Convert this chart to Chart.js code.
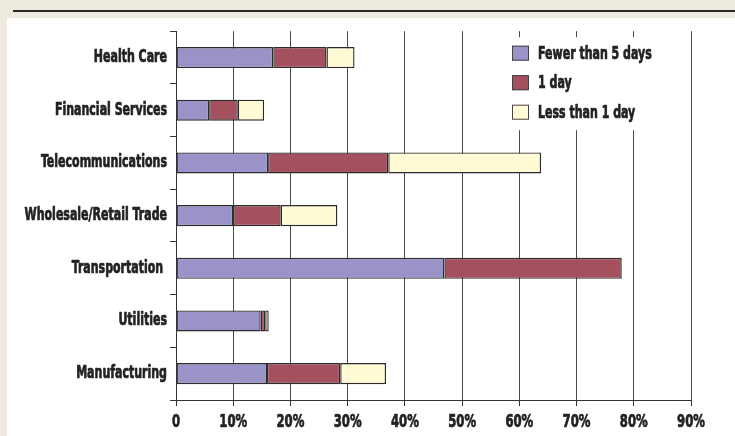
<!DOCTYPE html>
<html>
<head>
<meta charset="utf-8">
<script src="https://cdn.jsdelivr.net/npm/chart.js@4/dist/chart.umd.min.js"></script>
<style>
  html, body { margin: 0; padding: 0; }
  body { width: 735px; height: 436px; background: #eeeae0; position: relative; overflow: hidden; }
  #rule { position: absolute; left: 13px; right: 0; top: 10px; height: 2px; background: #2a2a2a; }
  #panel { position: absolute; left: 7px; top: 18px; width: 728px; height: 418px; background: #ffffff; }
  canvas { display: block; }
</style>
</head>
<body>
<div id="rule"></div>
<div id="panel"><canvas id="chart" width="728" height="418"></canvas></div>
<script>
// Industries, top to bottom
const industries = ['Health Care', 'Financial Services', 'Telecommunications', 'Wholesale/Retail Trade', 'Transportation ', 'Utilities', 'Manufacturing'];
// Share of respondents (%) per recovery window
const fewerThan5Days = [17.0, 5.8, 16.1, 10.0, 46.9, 14.8, 15.9];
const oneDay         = [9.3, 5.0, 21.0, 8.3, 31.0, 0.8, 12.8];
const lessThan1Day   = [4.9, 4.6, 26.7, 9.9, 0, 0.6, 8.0];
const seriesNames = ['Fewer than 5 days', '1 day', 'Less than 1 day'];
const xTicks = [0, 10, 20, 30, 40, 50, 60, 70, 80, 90];

const FONT = "'DejaVu Sans Condensed', 'DejaVu Sans', sans-serif";
const INK = '#222222';
const colors = ['#9a93c8', '#a5505e', '#fffbd5'];

// Narrow, heavy poster-style lettering: squeeze each glyph run horizontally
// and thicken it with a thin outline in the same colour
const SQUEEZE = 0.72;
function condense(ctx) {
  const fill = ctx.fillText.bind(ctx);
  const stroke = ctx.strokeText.bind(ctx);
  const measure = ctx.measureText.bind(ctx);
  ctx.fillText = function (text, x, y) {
    this.save();
    this.translate(x, y);
    this.scale(SQUEEZE, 1);
    fill(text, 0, 0);
    this.strokeStyle = this.fillStyle;
    this.lineWidth = 0.7;
    this.lineJoin = 'round';
    stroke(text, 0, 0);
    this.restore();
  };
  ctx.measureText = function (text) {
    const m = measure(text);
    return {
      width: m.width * SQUEEZE,
      actualBoundingBoxAscent: m.actualBoundingBoxAscent,
      actualBoundingBoxDescent: m.actualBoundingBoxDescent,
      actualBoundingBoxLeft: m.actualBoundingBoxLeft * SQUEEZE,
      actualBoundingBoxRight: m.actualBoundingBoxRight * SQUEEZE
    };
  };
}

// Legend drawn inside the plot, top right, over a white patch
const insideLegend = {
  id: 'insideLegend',
  afterDatasetsDraw(chart) {
    const ctx = chart.ctx;
    const area = chart.chartArea;
    const x0 = area.right - 192, y0 = area.top + 6;
    ctx.save();
    ctx.fillStyle = '#ffffff';
    ctx.fillRect(x0, y0, 186, 93);
    chart.data.datasets.forEach((ds, i) => {
      const cy = area.top + 22 + i * 29.5;
      const bx = x0 + 13;
      ctx.fillStyle = ds.backgroundColor;
      ctx.fillRect(bx, cy - 7.5, 17, 15);
      ctx.strokeStyle = '#444444';
      ctx.lineWidth = 1;
      ctx.strokeRect(bx + 0.5, cy - 7, 16, 14);
      ctx.fillStyle = INK;
      ctx.font = `bold 17px ${FONT}`;
      ctx.textAlign = 'left';
      ctx.textBaseline = 'middle';
      ctx.fillText(ds.label, bx + 26, cy + 1);
    });
    ctx.restore();
  }
};

const makeSet = (label, data, color) => ({
  label, data,
  backgroundColor: color,
  borderColor: '#2b2b2b',
  borderWidth: 1.4,
  borderSkipped: false,
  barPercentage: 0.4,
  categoryPercentage: 1.0
});

const canvas = document.getElementById('chart');
const context = canvas.getContext('2d');
condense(context);

new Chart(context, {
  type: 'bar',
  data: {
    labels: industries,
    datasets: [
      makeSet(seriesNames[0], fewerThan5Days, colors[0]),
      makeSet(seriesNames[1], oneDay, colors[1]),
      makeSet(seriesNames[2], lessThan1Day, colors[2])
    ]
  },
  options: {
    indexAxis: 'y',
    responsive: false,
    animation: false,
    events: [],
    layout: { padding: { left: 0, right: 44, top: 11, bottom: 0 } },
    plugins: { legend: { display: false }, tooltip: { enabled: false } },
    scales: {
      x: {
        stacked: true,
        min: 0,
        max: 90,
        afterBuildTicks(scale) { scale.ticks = xTicks.map(v => ({ value: v })); },
        afterFit(scale) { scale.height = 36; },
        ticks: {
          callback: v => (v === 0 ? '0' : v + '%'),
          color: INK,
          font: { family: FONT, size: 18, weight: 'bold' },
          padding: 6,
          maxRotation: 0,
          autoSkip: false
        },
        grid: { color: '#4a4a4a', lineWidth: 1, tickLength: 6, tickColor: '#333333' },
        border: { color: '#333333', width: 1 }
      },
      y: {
        stacked: true,
        afterFit(scale) { scale.width = 169; },
        ticks: {
          color: INK,
          font: { family: FONT, size: 17, weight: 'bold' },
          padding: 3
        },
        grid: { offset: true, drawOnChartArea: false, tickLength: 6, color: '#333333' },
        border: { color: '#333333', width: 1 }
      }
    }
  },
  plugins: [insideLegend]
});
</script>
</body>
</html>
